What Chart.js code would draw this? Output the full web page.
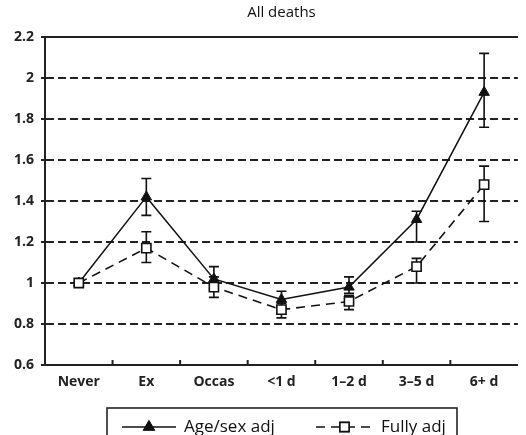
<!DOCTYPE html>
<html>
<head>
<meta charset="utf-8">
<script src="https://cdn.jsdelivr.net/npm/chart.js@4.4.1/dist/chart.umd.min.js"></script>
<style>
  html, body { margin: 0; padding: 0; background: #fff; }
  #wrap { width: 526px; height: 435px; }
</style>
</head>
<body>
<div id="wrap"><canvas id="deathsChart"></canvas></div>
<script>
const categories = ["Never", "Ex", "Occas", "<1 d", "1–2 d", "3–5 d", "6+ d"];
const yTicks = [0.6, 0.8, 1, 1.2, 1.4, 1.6, 1.8, 2, 2.2];

// age/sex adjusted
const ageSexAdj  = [1.0, 1.42, 1.02, 0.92, 0.98, 1.31, 1.93];
const ageSexLow  = [1.0, 1.33, 0.97, 0.88, 0.95, 1.20, 1.76];
const ageSexHigh = [1.0, 1.51, 1.08, 0.96, 1.03, 1.35, 2.12];

// fully adjusted
const fullyAdj  = [1.0, 1.17, 0.98, 0.87, 0.91, 1.08, 1.48];
const fullyLow  = [1.0, 1.10, 0.93, 0.83, 0.87, 1.00, 1.30];
const fullyHigh = [1.0, 1.25, 1.03, 0.90, 0.94, 1.12, 1.57];

const FONT = "'Open Sans', 'DejaVu Sans', sans-serif";

// --- Plugins ---

// vertical CI whiskers, drawn under the markers
const errorBars = {
    id: 'errorBars',
    beforeDatasetsDraw(chart) {
        const ctx = chart.ctx;
        const y = chart.scales.y;
        ctx.save();
        ctx.strokeStyle = '#111';
        ctx.lineWidth = 1.6;
        ctx.setLineDash([]);
        chart.data.datasets.forEach((ds, i) => {
            const meta = chart.getDatasetMeta(i);
            meta.data.forEach((pt, j) => {
                const lo = y.getPixelForValue(ds.low[j]);
                const hi = y.getPixelForValue(ds.high[j]);
                if (Math.abs(lo - hi) < 1) return;
                ctx.beginPath();
                ctx.moveTo(pt.x, lo); ctx.lineTo(pt.x, hi);
                ctx.moveTo(pt.x - 5, lo); ctx.lineTo(pt.x + 5, lo);
                ctx.moveTo(pt.x - 5, hi); ctx.lineTo(pt.x + 5, hi);
                ctx.stroke();
            });
        });
        ctx.restore();
    }
};

// solid top frame line and small inward ticks between categories
const frame = {
    id: 'frame',
    afterDraw(chart) {
        const ctx = chart.ctx;
        const a = chart.chartArea;
        const x = chart.scales.x;
        ctx.save();
        ctx.strokeStyle = '#222';
        ctx.lineWidth = 2;
        ctx.beginPath();
        ctx.moveTo(a.left - 4, a.top);
        ctx.lineTo(a.right, a.top);
        ctx.stroke();
        ctx.beginPath();
        for (let i = 0; i < categories.length - 1; i++) {
            const bx = (x.getPixelForTick(i) + x.getPixelForTick(i + 1)) / 2;
            ctx.moveTo(bx, a.bottom);
            ctx.lineTo(bx, a.bottom - 5);
        }
        ctx.stroke();
        ctx.restore();
    }
};

// boxed legend under the axis
const boxLegend = {
    id: 'boxLegend',
    afterDraw(chart) {
        const ctx = chart.ctx;
        ctx.save();
        ctx.strokeStyle = '#222';
        ctx.lineWidth = 1.6;
        ctx.strokeRect(107, 408, 350, 40);

        const items = [
            { ds: chart.data.datasets[1], x0: 122, x1: 176 },
            { ds: chart.data.datasets[0], x0: 316, x1: 373 },
        ];
        const ly = 427;
        items.forEach(it => {
            ctx.strokeStyle = '#111';
            ctx.lineWidth = 1.5;
            ctx.setLineDash(it.ds.borderDash || []);
            ctx.beginPath();
            ctx.moveTo(it.x0, ly); ctx.lineTo(it.x1, ly);
            ctx.stroke();
            ctx.setLineDash([]);
            const mx = (it.x0 + it.x1) / 2;
            Chart.helpers.drawPoint(ctx, {
                pointStyle: it.ds.pointStyle,
                radius: it.ds.pointRadius,
                borderWidth: it.ds.pointBorderWidth,
                rotation: 0
            }, mx, ly);
            ctx.fillStyle = it.ds.pointBackgroundColor;
            ctx.fill();
            ctx.strokeStyle = it.ds.pointBorderColor;
            ctx.lineWidth = it.ds.pointBorderWidth;
            ctx.stroke();
            ctx.fillStyle = '#111';
            ctx.font = "17px " + FONT;
            ctx.textBaseline = 'middle';
            ctx.fillText(it.ds.label, it.x1 + 8, ly);
        });
        ctx.restore();
    }
};

// --- Chart ---

const ctx = document.getElementById('deathsChart');

new Chart(ctx, {
    type: 'line',
    data: {
        labels: categories,
        datasets: [
            {
                label: 'Fully adj',
                data: fullyAdj,
                low: fullyLow,
                high: fullyHigh,
                order: 0,
                borderColor: '#111',
                borderWidth: 1.6,
                borderDash: [9, 6],
                pointStyle: 'rect',
                pointRadius: 6.5,
                pointBorderWidth: 1.6,
                pointBackgroundColor: '#fff',
                pointBorderColor: '#111',
                tension: 0,
            },
            {
                label: 'Age/sex adj',
                data: ageSexAdj,
                low: ageSexLow,
                high: ageSexHigh,
                order: 1,
                borderColor: '#111',
                borderWidth: 1.5,
                pointStyle: 'triangle',
                pointRadius: 6,
                pointBorderWidth: 1,
                pointBackgroundColor: '#111',
                pointBorderColor: '#111',
                tension: 0,
            }
        ]
    },
    options: {
        responsive: true,
        maintainAspectRatio: false,
        animation: false,
        layout: { padding: { left: 0, right: -4, top: 0, bottom: 40 } },
        plugins: {
            legend: { display: false },
            tooltip: { enabled: false },
            title: {
                display: true,
                text: 'All deaths',
                fullSize: false,
                color: '#111',
                font: { family: FONT, size: 15, weight: 'normal' },
                padding: { top: 4, bottom: 15 }
            }
        },
        scales: {
            x: {
                offset: true,
                grid: { display: false, drawTicks: false },
                border: { display: true, color: '#222', width: 2 },
                ticks: {
                    color: '#222',
                    padding: 9,
                    maxRotation: 0,
                    font: { family: FONT, size: 14, weight: 'bold' }
                },
                afterFit(scale) { scale.height = 30; }
            },
            y: {
                min: 0.6,
                max: 2.2,
                afterBuildTicks(scale) {
                    scale.ticks = yTicks.map(v => ({ value: v }));
                },
                grid: {
                    color: '#222',
                    lineWidth: 2,
                    tickLength: 4,
                    tickBorderDash: [],
                },
                border: { display: true, color: '#222', width: 2, dash: [8, 4] },
                ticks: {
                    color: '#222',
                    padding: 7,
                    font: { family: FONT, size: 14, weight: 'bold' },
                    callback: (v) => String(Number(v.toFixed(1)))
                },
                afterFit(scale) { scale.width = 45; }
            }
        }
    },
    plugins: [errorBars, frame, boxLegend]
});
</script>
</body>
</html>
